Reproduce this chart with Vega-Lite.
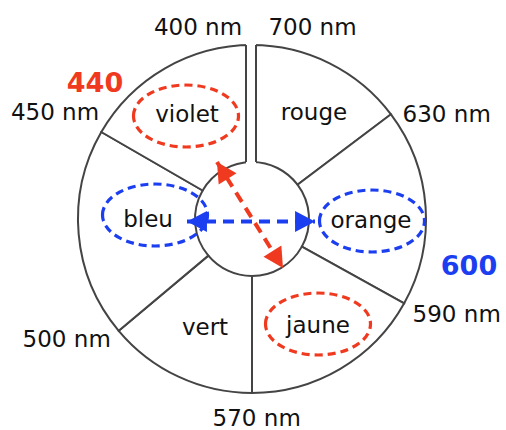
{
  "$schema": "https://vega.github.io/schema/vega-lite/v6.json",
  "width": 506,
  "height": 430,
  "padding": 0,
  "autosize": {"type": "none"},
  "background": "white",
  "config": {"view": {"stroke": null}},
  "datasets": {
    "sectors": [
      {"name": "rouge", "from": 0, "to": 53},
      {"name": "orange", "from": 53, "to": 119},
      {"name": "jaune", "from": 119, "to": 180},
      {"name": "vert", "from": 180, "to": 230},
      {"name": "bleu", "from": 230, "to": 300},
      {"name": "violet", "from": 300, "to": 360}
    ],
    "gap": [{"x0": -6, "x1": 4, "y0": 55, "y1": 182}],
    "gapEdges": [
      {"x": -6, "y0": 57, "y1": 174},
      {"x": 4, "y0": 57, "y1": 174}
    ],
    "ellipses": [
      {"name": "violet", "x": -66, "y": 103, "pair": "A"},
      {"name": "jaune", "x": 66, "y": -105, "pair": "A"},
      {"name": "bleu", "x": -97, "y": 4, "pair": "B"},
      {"name": "orange", "x": 120, "y": -2, "pair": "B"}
    ],
    "arrows": [
      {"pair": "A", "end": 1, "x": -35, "y": 57, "heading": 328},
      {"pair": "A", "end": 2, "x": 31, "y": -49, "heading": 148},
      {"pair": "B", "end": 1, "x": -65, "y": -2.5, "heading": 270},
      {"pair": "B", "end": 2, "x": 63, "y": -2.5, "heading": 90}
    ],
    "labels": [
      {"text": "400 nm", "x": -54, "y": 184},
      {"text": "700 nm", "x": 60.5, "y": 184},
      {"text": "630 nm", "x": 194.7, "y": 97},
      {"text": "590 nm", "x": 204.7, "y": -103},
      {"text": "570 nm", "x": 4.7, "y": -207},
      {"text": "500 nm", "x": -185.3, "y": -128},
      {"text": "450 nm", "x": -197, "y": 99},
      {"text": "violet", "x": -65, "y": 97},
      {"text": "rouge", "x": 62, "y": 99},
      {"text": "orange", "x": 119, "y": -9},
      {"text": "jaune", "x": 66, "y": -114},
      {"text": "vert", "x": -47, "y": -116},
      {"text": "bleu", "x": -104, "y": -8}
    ],
    "peaks": [
      {"text": "440", "x": -157, "y": 127, "pair": "A"},
      {"text": "600", "x": 217, "y": -56, "pair": "B"}
    ]
  },
  "layer": [
    {
      "data": {"name": "sectors"},
      "mark": {"type": "arc", "radius": 174, "radius2": 57, "fill": "white", "stroke": "#444444", "strokeWidth": 2},
      "encoding": {
        "x": {"datum": 0, "type": "quantitative", "scale": {"domain": [-252, 254], "nice": false, "zero": false}, "axis": null},
        "y": {"datum": 0, "type": "quantitative", "scale": {"domain": [-211, 219], "nice": false, "zero": false}, "axis": null},
        "theta": {"field": "from", "type": "quantitative", "stack": false, "scale": {"domain": [0, 360], "range": [0, 6.283185307179586], "nice": false, "zero": false}},
        "theta2": {"field": "to"}
      }
    },
    {
      "data": {"name": "gap"},
      "mark": {"type": "rect", "fill": "white", "strokeWidth": 0},
      "encoding": {
        "x": {"field": "x0", "type": "quantitative", "scale": {"domain": [-252, 254], "nice": false, "zero": false}, "axis": null},
        "x2": {"field": "x1"},
        "y": {"field": "y0", "type": "quantitative", "scale": {"domain": [-211, 219], "nice": false, "zero": false}, "axis": null},
        "y2": {"field": "y1"}
      }
    },
    {
      "data": {"name": "gapEdges"},
      "mark": {"type": "rule", "color": "#444444", "strokeWidth": 2},
      "encoding": {
        "x": {"field": "x", "type": "quantitative", "scale": {"domain": [-252, 254], "nice": false, "zero": false}, "axis": null},
        "y": {"field": "y0", "type": "quantitative", "scale": {"domain": [-211, 219], "nice": false, "zero": false}, "axis": null},
        "y2": {"field": "y1"}
      }
    },
    {
      "data": {"name": "ellipses"},
      "mark": {"type": "point", "filled": false, "opacity": 1, "size": 11025, "shape": "M-1,0C-1,-0.3258,-0.5523,-0.59,0,-0.59C0.5523,-0.59,1,-0.3258,1,0C1,0.3258,0.5523,0.59,0,0.59C-0.5523,0.59,-1,0.3258,-1,0Z", "strokeWidth": 3.2, "strokeDash": [8, 5]},
      "encoding": {
        "x": {"field": "x", "type": "quantitative", "scale": {"domain": [-252, 254], "nice": false, "zero": false}, "axis": null},
        "y": {"field": "y", "type": "quantitative", "scale": {"domain": [-211, 219], "nice": false, "zero": false}, "axis": null},
        "color": {"field": "pair", "type": "nominal", "scale": {"domain": ["A", "B"], "range": ["#f03a1f", "#1b3ef0"]}, "legend": null}
      }
    },
    {
      "data": {"name": "arrows"},
      "mark": {"type": "line", "strokeWidth": 4, "strokeDash": [11, 7]},
      "encoding": {
        "x": {"field": "x", "type": "quantitative", "scale": {"domain": [-252, 254], "nice": false, "zero": false}, "axis": null},
        "y": {"field": "y", "type": "quantitative", "scale": {"domain": [-211, 219], "nice": false, "zero": false}, "axis": null},
        "color": {"field": "pair", "type": "nominal", "scale": {"domain": ["A", "B"], "range": ["#f03a1f", "#1b3ef0"]}, "legend": null},
        "order": {"field": "end", "type": "quantitative"}
      }
    },
    {
      "data": {"name": "arrows"},
      "mark": {"type": "point", "filled": true, "opacity": 1, "size": 441, "shape": "M0,0L-1,1.9L1,1.9Z", "strokeWidth": 0},
      "encoding": {
        "x": {"field": "x", "type": "quantitative", "scale": {"domain": [-252, 254], "nice": false, "zero": false}, "axis": null},
        "y": {"field": "y", "type": "quantitative", "scale": {"domain": [-211, 219], "nice": false, "zero": false}, "axis": null},
        "color": {"field": "pair", "type": "nominal", "scale": {"domain": ["A", "B"], "range": ["#f03a1f", "#1b3ef0"]}, "legend": null},
        "angle": {"field": "heading", "type": "quantitative", "scale": null}
      }
    },
    {
      "data": {"name": "labels"},
      "mark": {"type": "text", "font": "DejaVu Sans", "fontSize": 23, "align": "center", "baseline": "alphabetic", "color": "#111111"},
      "encoding": {
        "x": {"field": "x", "type": "quantitative", "scale": {"domain": [-252, 254], "nice": false, "zero": false}, "axis": null},
        "y": {"field": "y", "type": "quantitative", "scale": {"domain": [-211, 219], "nice": false, "zero": false}, "axis": null},
        "text": {"field": "text", "type": "nominal"}
      }
    },
    {
      "data": {"name": "peaks"},
      "mark": {"type": "text", "font": "DejaVu Sans", "fontSize": 27, "fontWeight": "bold", "align": "center", "baseline": "alphabetic"},
      "encoding": {
        "x": {"field": "x", "type": "quantitative", "scale": {"domain": [-252, 254], "nice": false, "zero": false}, "axis": null},
        "y": {"field": "y", "type": "quantitative", "scale": {"domain": [-211, 219], "nice": false, "zero": false}, "axis": null},
        "color": {"field": "pair", "type": "nominal", "scale": {"domain": ["A", "B"], "range": ["#f03a1f", "#1b3ef0"]}, "legend": null},
        "text": {"field": "text", "type": "nominal"}
      }
    }
  ]
}
